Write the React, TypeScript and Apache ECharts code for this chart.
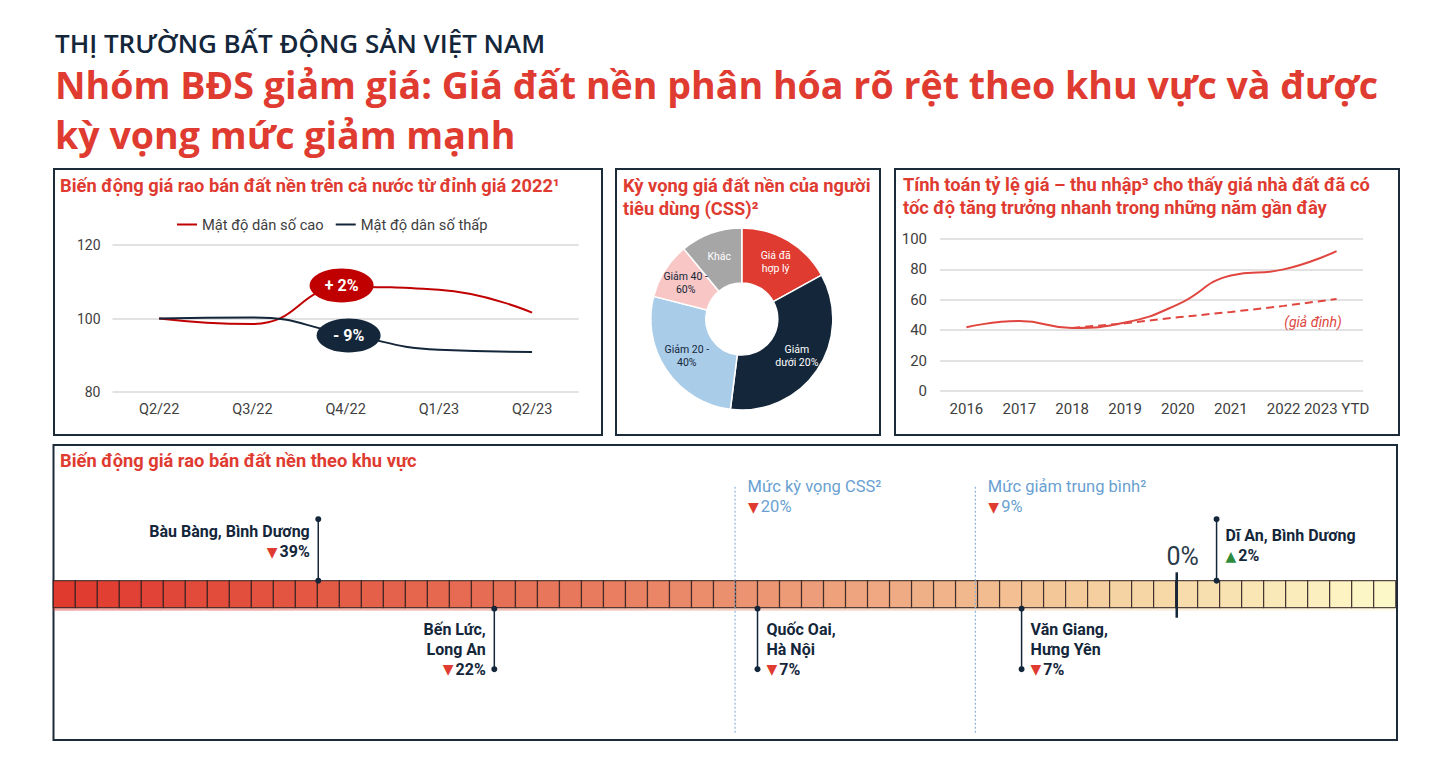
import React, { useEffect, useRef } from "react";
import * as echarts from "echarts";

// ---------------- data ----------------
const quarters = ["Q2/22", "Q3/22", "Q4/22", "Q1/23", "Q2/23"];
const seriesNames = ["Mật độ dân số cao", "Mật độ dân số thấp"];
const highDensity = [100, 98.5, 108.6, 107.8, 101.6];
const lowDensity = [100, 100.3, 95.8, 91.5, 90.9];
const badgeTexts = ["+ 2%", "- 9%"];
const badgeLevels = [109, 95.4];

const cssNames = ["Giá đã\nhợp lý", "Giảm\ndưới 20%", "Giảm 20 -\n40%", "Giảm 40 -\n60%", "Khác"];
const cssShares = [17, 35, 27, 10, 11];

const years = ["2016", "2017", "2018", "2019", "2020", "2021", "2022", "2023 YTD"];
const priceToIncome = [42, 46, 41.5, 45, 57, 76, 80, 92];
const assumedTrend = [null, null, 41.5, 44.5, 48.5, 52, 56, 60.5];
const assumedLabel = "(giả định)";

const regionNames = [
  "Bàu Bàng, Bình Dương",
  "Bến Lức,\nLong An",
  "Quốc Oai,\nHà Nội",
  "Văn Giang,\nHưng Yên",
  "Dĩ An, Bình Dương",
];
const regionChanges = [-39, -22, -7, -7, 2];
const regionScalePos = [12.04, 20.04, 32.0, 44.0, 52.86];
const refNames = ["Mức kỳ vọng CSS²", "Mức giảm trung bình²"];
const refChanges = [-20, -9];
const refScalePos = [30.98, 41.9];
const zeroScalePos = 51.05;
const zeroLabel = "0%";
const cellCount = 61;

// ---------------- styles ----------------
const RED = "#e03b31";
const NAVY = "#14263a";
const BLUE = "#6a9fd1";
const GREY_TXT = "#404040";
const FONT = "Roboto, 'DejaVu Sans', sans-serif";
const CSS_COLORS = ["#e03b31", "#14263a", "#a9cce9", "#f8c6c5", "#a6a6a6"];
const CSS_LABEL_COLORS = ["#ffffff", "#ffffff", "#14263a", "#14263a", "#ffffff"];
const CELL_COLORS = ["#e0392e", "#e35a45", "#e87b5e", "#eea47e", "#f6d3a2", "#fdf8c8"];
const PANEL_TITLE = 18.3;
const regionLayout = [
  { above: true, align: "right", dy: -49 },
  { above: false, align: "right", dy: 21.5 },
  { above: false, align: "left", dy: 21.5 },
  { above: false, align: "left", dy: 21.5 },
  { above: true, align: "left", dy: -45 },
];

function txt(x: number, y: number, text: string, opts: any = {}) {
  return {
    type: "text",
    x,
    y,
    style: {
      text,
      fill: opts.fill || NAVY,
      fontSize: opts.fontSize || 14,
      fontWeight: opts.fontWeight || "normal",
      fontStyle: opts.fontStyle || "normal",
      fontFamily: opts.fontFamily || FONT,
      textAlign: opts.align || "left",
      align: opts.align || "left",
      textVerticalAlign: "middle",
      verticalAlign: "middle",
      rich: opts.rich,
    },
    z: 10,
  };
}

function valueText(change: number, valColor: string, bold: boolean) {
  const up = change > 0;
  return {
    text: `{tri|${up ? "▲" : "▼"}}{val|${Math.abs(change)}%}`,
    rich: {
      tri: {
        fill: up ? "#2e8b3e" : "#e03b31",
        fontSize: 14,
        fontFamily: "'DejaVu Sans', sans-serif",
        padding: [0, 2, 0, 0],
      },
      val: {
        fill: valColor,
        fontSize: bold ? 16 : 16.5,
        fontWeight: bold ? "bold" : "normal",
        fontFamily: FONT,
      },
    },
  };
}

export default function App() {
  const ref = useRef<HTMLDivElement>(null);

  useEffect(() => {
    document.body.style.margin = "0";
    const chart = echarts.init(ref.current!, null, { renderer: "svg" });

    const renderCells = (params: any, api: any) => {
      const i = api.value(0);
      const p0 = api.coord([i, 1]);
      const p1 = api.coord([i + 1, 0]);
      const color = echarts.color.lerp(i / (cellCount - 1), CELL_COLORS);
      return {
        type: "group",
        children: [
          {
            type: "rect",
            shape: { x: p0[0], y: p1[1], width: p1[0] - p0[0], height: 3 },
            style: { fill: color, opacity: 0.45 },
          },
          {
            type: "rect",
            shape: { x: p0[0], y: p0[1], width: p1[0] - p0[0], height: p1[1] - p0[1] },
            style: { fill: color, stroke: "rgba(45,30,30,0.8)", lineWidth: 1.2 },
          },
        ],
      };
    };

    const renderZero = (params: any, api: any) => {
      const pos = api.value(0);
      const top = api.coord([pos, 1]);
      const bot = api.coord([pos, 0]);
      const x = top[0];
      return {
        type: "group",
        children: [
          {
            type: "line",
            shape: { x1: x, y1: top[1] - 8.4, x2: x, y2: bot[1] + 10 },
            style: { stroke: NAVY, lineWidth: 2.5 },
          },
          txt(x + 6, top[1] - 24, zeroLabel, { fontSize: 25, fill: "#2b3a48", align: "center" }),
        ],
      };
    };

    const renderRef = (params: any, api: any) => {
      const i = params.dataIndex;
      const pos = api.value(0);
      const change = api.value(1);
      const top = api.coord([pos, 1]);
      const bot = api.coord([pos, 0]);
      const x = top[0];
      const vt = valueText(change, BLUE, false);
      return {
        type: "group",
        children: [
          {
            type: "line",
            shape: { x1: x, y1: top[1] - 94, x2: x, y2: bot[1] + 125.6 },
            style: { stroke: "#8fb3d9", lineWidth: 1.2, lineDash: [2, 2] },
          },
          txt(x + 12.5, top[1] - 94, refNames[i], { fontSize: 16.5, fill: BLUE }),
          txt(x + 13, top[1] - 74, vt.text, { fontSize: 16.5, fill: BLUE, rich: vt.rich }),
        ],
      };
    };

    const renderRegion = (params: any, api: any) => {
      const i = params.dataIndex;
      const pos = api.value(0);
      const change = api.value(1);
      const top = api.coord([pos, 1]);
      const bot = api.coord([pos, 0]);
      const lay = regionLayout[i];
      const x = top[0];
      const y1 = lay.above ? top[1] - 61.5 : bot[1] + 1;
      const y2 = lay.above ? top[1] : bot[1] + 61.5;
      const children: any[] = [
        { type: "line", shape: { x1: x, y1, x2: x, y2 }, style: { stroke: NAVY, lineWidth: 1.5 } },
        { type: "circle", shape: { cx: x, cy: y1, r: 3 }, style: { fill: NAVY } },
        { type: "circle", shape: { cx: x, cy: y2, r: 3 }, style: { fill: NAVY } },
      ];
      const tx = lay.align === "right" ? x - 8.5 : x + 9;
      let ty = (lay.above ? top[1] : bot[1]) + lay.dy;
      regionNames[i].split("\n").forEach((line) => {
        children.push(txt(tx, ty, line, { fontWeight: "bold", fontSize: 16, align: lay.align }));
        ty += 20;
      });
      const vt = valueText(change, NAVY, true);
      children.push(txt(tx, ty, vt.text, { fontWeight: "bold", fontSize: 16, align: lay.align, rich: vt.rich }));
      return { type: "group", children };
    };

    const panelRect = (x: number, y: number, w: number, h: number) => ({
      type: "rect",
      shape: { x, y, width: w, height: h },
      style: { fill: "none", stroke: "#1c2b39", lineWidth: 2 },
      z: 0,
    });

    const option: any = {
      animation: false,
      backgroundColor: "#ffffff",
      textStyle: { fontFamily: FONT },
      graphic: [
        panelRect(54, 169, 548, 266),
        panelRect(616, 169, 264, 266),
        panelRect(895, 169, 504, 266),
        panelRect(53.5, 445, 1343.5, 295),
        txt(55, 43, "THỊ TRƯỜNG BẤT ĐỘNG SẢN VIỆT NAM", {
          fontFamily: "'Open Sans', sans-serif",
          fontWeight: 600,
          fontSize: 26,
          fill: NAVY,
        }),
        txt(55, 84, "Nhóm BĐS giảm giá: Giá đất nền phân hóa rõ rệt theo khu vực và được", {
          fontFamily: "'Open Sans', sans-serif",
          fontWeight: "bold",
          fontSize: 37.6,
          fill: RED,
        }),
        txt(55, 134, "kỳ vọng mức giảm mạnh", {
          fontFamily: "'Open Sans', sans-serif",
          fontWeight: "bold",
          fontSize: 37.6,
          fill: RED,
        }),
        txt(60, 185, "Biến động giá rao bán đất nền trên cả nước từ đỉnh giá 2022¹", {
          fontWeight: "bold",
          fontSize: PANEL_TITLE,
          fill: RED,
        }),
        txt(623, 185, "Kỳ vọng giá đất nền của người", { fontWeight: "bold", fontSize: PANEL_TITLE, fill: RED }),
        txt(623, 208, "tiêu dùng (CSS)²", { fontWeight: "bold", fontSize: PANEL_TITLE, fill: RED }),
        txt(903, 184, "Tính toán tỷ lệ giá – thu nhập³ cho thấy giá nhà đất đã có", {
          fontWeight: "bold",
          fontSize: PANEL_TITLE,
          fill: RED,
        }),
        txt(903, 207, "tốc độ tăng trưởng nhanh trong những năm gần đây", {
          fontWeight: "bold",
          fontSize: PANEL_TITLE,
          fill: RED,
        }),
        txt(60, 460, "Biến động giá rao bán đất nền theo khu vực", {
          fontWeight: "bold",
          fontSize: PANEL_TITLE,
          fill: RED,
        }),
        txt(1313, 322, assumedLabel, { fontStyle: "italic", fontSize: 14, fill: "#e0463f", align: "center" }),
      ],
      legend: {
        data: seriesNames,
        left: 172,
        top: 212,
        icon: "rect",
        itemWidth: 20,
        itemHeight: 2,
        itemGap: 12,
        textStyle: { fontSize: 14.7, color: GREY_TXT, fontFamily: FONT },
      },
      grid: [
        { left: 112.5, top: 245, width: 466.2, height: 147 },
        { left: 940, top: 239, width: 423, height: 152 },
        { left: 53.3, top: 580.7, width: 1342.4, height: 27 },
      ],
      xAxis: [
        {
          type: "category",
          gridIndex: 0,
          data: quarters,
          boundaryGap: true,
          axisLine: { show: false },
          axisTick: { show: false },
          axisLabel: { fontSize: 14.5, color: GREY_TXT, margin: 10, interval: 0 },
        },
        {
          type: "category",
          gridIndex: 1,
          data: years,
          boundaryGap: true,
          axisLine: { show: false },
          axisTick: { show: false },
          axisLabel: { fontSize: 15, color: GREY_TXT, margin: 10, interval: 0 },
        },
        { type: "value", gridIndex: 2, min: 0, max: cellCount, show: false },
      ],
      yAxis: [
        {
          type: "value",
          gridIndex: 0,
          min: 80,
          max: 120,
          interval: 20,
          axisLine: { show: false },
          axisTick: { show: false },
          axisLabel: { fontSize: 14, color: GREY_TXT, margin: 12 },
          splitLine: { lineStyle: { color: "#d9d9d9", width: 1.5 } },
        },
        {
          type: "value",
          gridIndex: 1,
          min: 0,
          max: 100,
          interval: 20,
          axisLine: { show: false },
          axisTick: { show: false },
          axisLabel: { fontSize: 15, color: GREY_TXT, margin: 13 },
          splitLine: { lineStyle: { color: "#d9d9d9", width: 1.5 } },
        },
        { type: "value", gridIndex: 2, min: 0, max: 1, show: false },
      ],
      series: [
        {
          name: seriesNames[0],
          type: "line",
          xAxisIndex: 0,
          yAxisIndex: 0,
          data: highDensity,
          smooth: true,
          showSymbol: false,
          color: "#c00000",
          lineStyle: { width: 2, color: "#c00000" },
          z: 3,
          markPoint: {
            symbol: "circle",
            symbolSize: [64, 34],
            itemStyle: { color: "#c00000" },
            label: { show: true, color: "#fff", fontWeight: "bold", fontSize: 16, fontFamily: FONT },
            data: [
              {
                coord: [quarters[2], badgeLevels[0]],
                value: badgeTexts[0],
                symbolOffset: [-4, 0],
                label: { formatter: badgeTexts[0] },
              },
            ],
          },
        },
        {
          name: seriesNames[1],
          type: "line",
          xAxisIndex: 0,
          yAxisIndex: 0,
          data: lowDensity,
          smooth: true,
          showSymbol: false,
          color: NAVY,
          lineStyle: { width: 2, color: NAVY },
          z: 3,
          markPoint: {
            symbol: "circle",
            symbolSize: [64, 34],
            itemStyle: { color: NAVY },
            label: { show: true, color: "#fff", fontWeight: "bold", fontSize: 16, fontFamily: FONT },
            data: [
              {
                coord: [quarters[2], badgeLevels[1]],
                value: badgeTexts[1],
                symbolOffset: [3, 0],
                label: { formatter: badgeTexts[1] },
              },
            ],
          },
        },
        {
          type: "pie",
          center: [741.8, 319],
          radius: [36, 91],
          startAngle: 90,
          clockwise: true,
          itemStyle: { borderColor: "#ffffff", borderWidth: 1.5 },
          label: { position: "inside", fontSize: 10.5, lineHeight: 13, fontFamily: FONT },
          labelLine: { show: false },
          data: cssNames.map((n, i) => ({
            name: n,
            value: cssShares[i],
            itemStyle: { color: CSS_COLORS[i] },
            label: { color: CSS_LABEL_COLORS[i] },
          })),
        },
        {
          type: "line",
          xAxisIndex: 1,
          yAxisIndex: 1,
          data: priceToIncome,
          smooth: true,
          showSymbol: false,
          lineStyle: { width: 2, color: "#e0463f" },
          z: 3,
        },
        {
          type: "line",
          xAxisIndex: 1,
          yAxisIndex: 1,
          data: assumedTrend,
          showSymbol: false,
          lineStyle: { width: 2, color: "#e0463f", type: [8, 5] },
          z: 2,
        },
        {
          type: "custom",
          xAxisIndex: 2,
          yAxisIndex: 2,
          data: Array.from({ length: cellCount }, (_, i) => [i, 0]),
          renderItem: renderCells,
          z: 2,
        },
        {
          type: "custom",
          xAxisIndex: 2,
          yAxisIndex: 2,
          data: refScalePos.map((p, i) => [p, refChanges[i]]),
          renderItem: renderRef,
          z: 3,
        },
        {
          type: "custom",
          xAxisIndex: 2,
          yAxisIndex: 2,
          data: [[zeroScalePos, 0]],
          renderItem: renderZero,
          z: 4,
        },
        {
          type: "custom",
          xAxisIndex: 2,
          yAxisIndex: 2,
          data: regionScalePos.map((p, i) => [p, regionChanges[i]]),
          renderItem: renderRegion,
          z: 5,
        },
      ],
    };

    chart.setOption(option);
    return () => chart.dispose();
  }, []);

  return (
    <div
      ref={ref}
      style={{ position: "absolute", left: 0, top: 0, width: 1443, height: 768 }}
    />
  );
}
